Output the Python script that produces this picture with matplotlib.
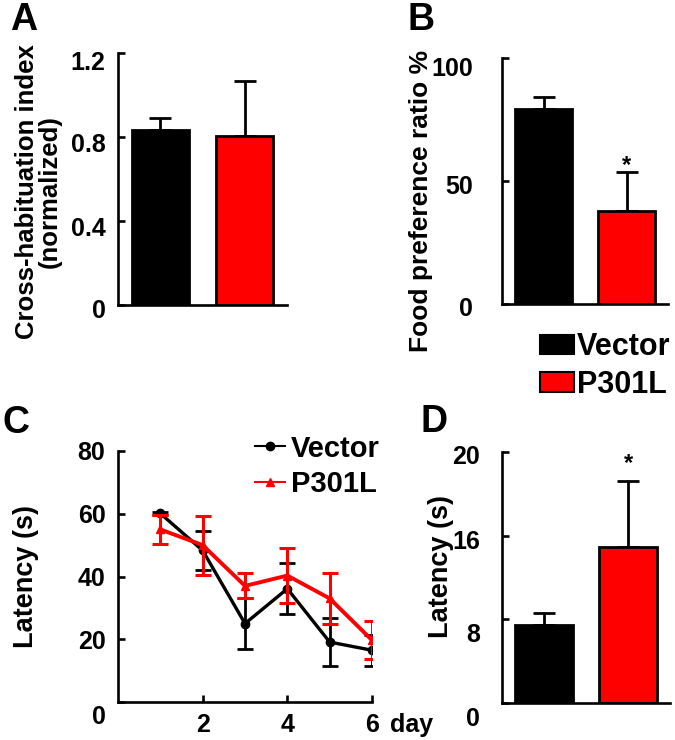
import matplotlib
matplotlib.use('Agg')
import matplotlib.pyplot as plt
import matplotlib.transforms as mtrans
from matplotlib.patches import Patch
from matplotlib.lines import Line2D

plt.rcParams['font.family'] = ['Liberation Sans', 'DejaVu Sans']
plt.rcParams['font.weight'] = 'bold'

groups = ['Vector', 'P301L']
colors = ['#000000', '#ff0000']

# panel A
crossIdx = [0.833, 0.805]
crossErr = [0.059, 0.263]
# panel B
foodPref = [79.3, 37.9]
foodErr = [5.0, 15.6]
# panel C
days = [1, 2, 3, 4, 5, 6]
vecLat = [60.1, 48.3, 25.0, 36.1, 19.1, 16.5]
vecErr = [0.5, 6.3, 8.0, 8.2, 7.7, 4.9]
mutLat = [55.0, 50.0, 37.0, 40.3, 33.0, 19.7]
mutErr = [4.6, 9.4, 4.0, 8.7, 8.2, 6.0]
# panel D (tick labels as printed on the original axis)
probeLat = [7.45, 14.9]
probeErr = [1.18, 6.29]
dTicks = [0, 8, 16, 24]
dTickLabels = ['0', '8', '16', '20']

fig = plt.figure(figsize=(6.75, 7.4), dpi=100)
W, H = 675.0, 740.0

def mkAxes(l, r, t, b):
    return fig.add_axes([l / W, 1 - b / H, (r - l) / W, (b - t) / H])

def styleAx(ax, ypad=9):
    for s in ['top', 'right']:
        ax.spines[s].set_visible(False)
    for s in ['left', 'bottom']:
        ax.spines[s].set_linewidth(1.9)
    ax.tick_params(axis='y', direction='in', length=5, width=1.9, labelsize=18, pad=ypad)
    ax.tick_params(axis='x', direction='in', length=5, width=1.9, labelsize=18, pad=8)

def shiftLabels(ax, shifts):
    # nudge y tick labels down (pixels), as in the original figure
    for lab in ax.get_yticklabels():
        dy = shifts.get(lab.get_text(), 0)
        if dy:
            off = mtrans.ScaledTranslation(0, -dy / 100.0, fig.dpi_scale_trans)
            lab.set_transform(lab.get_transform() + off)

def barPanel(ax, vals, errs, ypad=9):
    for i in range(2):
        ax.errorbar(i, vals[i], yerr=[[0], [errs[i]]], fmt='none', ecolor='black',
                    elinewidth=2, capsize=8, capthick=2, zorder=1)
        ax.bar(i, vals[i], width=0.68, color=colors[i], edgecolor='black', linewidth=2, zorder=2)
    ax.set_xlim(-0.5, 1.5)
    ax.set_xticks([])
    styleAx(ax, ypad)

# A
axA = mkAxes(118, 287, 53, 305)
barPanel(axA, crossIdx, crossErr)
axA.set_ylim(0, 1.2)
axA.set_yticks([0, 0.4, 0.8, 1.2])
axA.set_yticklabels(['0', '0.4', '0.8', '1.2'])
axA.set_ylabel('Cross-habituation index\n(normalized)', fontsize=18.5, fontweight='bold',
               linespacing=0.95)
axA.yaxis.set_label_coords(-0.33, 0.45)
shiftLabels(axA, {'1.2': 8, '0.8': 5, '0.4': 6, '0': 4})

# B
axB = mkAxes(502, 668, 58, 304)
barPanel(axB, foodPref, foodErr, ypad=21)
axB.set_ylim(0, 100)
axB.set_yticks([0, 50, 100])
axB.set_ylabel('Food preference ratio %', fontsize=19, fontweight='bold')
axB.yaxis.set_label_coords(-0.415, 0.42)
axB.text(1, foodPref[1] + foodErr[1] - 2, '*', ha='center', va='bottom', fontsize=17, fontweight='bold')
shiftLabels(axB, {'100': 8, '50': 4, '0': 3})
fig.legend(handles=[Patch(facecolor=colors[0], edgecolor='black', linewidth=1.5),
                    Patch(facecolor=colors[1], edgecolor='black', linewidth=1.5)],
           labels=groups, loc='upper left', bbox_to_anchor=(540 / W, 1 - 332 / H),
           frameon=False, fontsize=22, handlelength=1.1, handleheight=0.6,
           handletextpad=0.12, labelspacing=0.25, borderpad=0, borderaxespad=0)

# C
axC = mkAxes(118, 372, 451, 702)
axC.errorbar(days, vecLat, yerr=vecErr, color='black', lw=2.4, marker='o', ms=6,
             elinewidth=2, capsize=6, capthick=2, zorder=2)
axC.errorbar(days, mutLat, yerr=mutErr, color='#ff0000', lw=2.8, marker='^', ms=6,
             elinewidth=2.2, capsize=6, capthick=2.2, zorder=3)
axC.set_xlim(0, 6)
axC.set_ylim(0, 80)
axC.set_xticks([2, 4, 6])
axC.set_yticks([0, 20, 40, 60, 80])
styleAx(axC)
axC.set_ylabel('Latency (s)', fontsize=19.5, fontweight='bold')
axC.yaxis.set_label_coords(-0.31, 0.5)
axC.annotate('day', xy=(1, 0), xycoords='axes fraction', xytext=(13, -8),
             textcoords='offset points', ha='left', va='top', fontsize=18, fontweight='bold')
shiftLabels(axC, {'0': 12})
legC = [Line2D([0], [0], color='black', lw=1.5, marker='o', ms=6),
        Line2D([0], [0], color='#ff0000', lw=1.5, marker='^', ms=6)]
axC.legend(legC, groups, loc='upper left', bbox_to_anchor=(240 / W, 1 - 420 / H),
           bbox_transform=fig.transFigure, frameon=False, fontsize=21,
           handlelength=1.05, handletextpad=0.2, labelspacing=0.25, borderpad=0)

# D
axD = mkAxes(502, 670, 452, 703)
barPanel(axD, probeLat, probeErr, ypad=16)
axD.set_ylim(0, 24)
axD.set_yticks(dTicks)
axD.set_yticklabels(dTickLabels)
axD.set_ylabel('Latency (s)', fontsize=19.5, fontweight='bold')
axD.yaxis.set_label_coords(-0.285, 0.545)
axD.text(1, probeLat[1] + probeErr[1] + 0.6, '*', ha='center', va='bottom', fontsize=17, fontweight='bold')
shiftLabels(axD, {'20': 3, '16': 4, '8': 13, '0': 13})

# panel letters
for lt, x, y in [('A', 10, 2), ('B', 408, 2), ('C', 3, 405), ('D', 421, 404)]:
    fig.text(x / W, 1 - y / H, lt, fontsize=27, fontweight='bold', ha='left', va='top')

fig.savefig('out.png', dpi=100)
